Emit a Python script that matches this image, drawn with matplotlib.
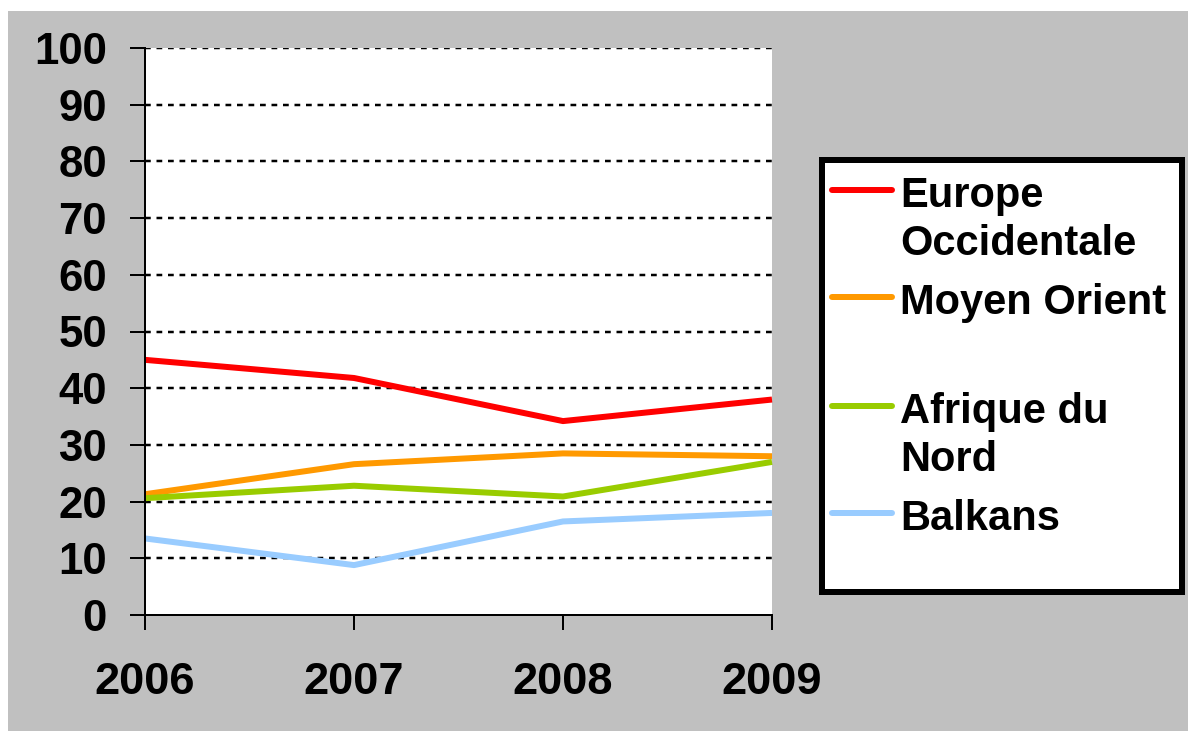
import matplotlib
matplotlib.use('Agg')
import matplotlib.pyplot as plt
from matplotlib.patches import Rectangle
from matplotlib.lines import Line2D

# Data
years = [2006, 2007, 2008, 2009]
europe = [45.0, 41.8, 34.2, 38.0]
moyen_orient = [21.3, 26.6, 28.5, 28.0]
afrique = [20.6, 22.8, 20.9, 27.0]
balkans = [13.5, 8.8, 16.5, 18.0]

labels = ['Europe\nOccidentale', 'Moyen Orient', 'Afrique du\nNord', 'Balkans']
series = [europe, moyen_orient, afrique, balkans]
colors = ['#ff0000', '#ff9900', '#99cc00', '#99ccff']
yticks = list(range(0, 101, 10))

W, H = 1188, 731
DPI = 100
PX = 72 / DPI  # points per pixel

def fx(x):
    return x / W

def fy(y):
    return 1 - y / H

plt.rcParams['font.family'] = ['Liberation Sans', 'DejaVu Sans']
plt.rcParams['font.weight'] = 'bold'

fig = plt.figure(figsize=(W / DPI, H / DPI), dpi=DPI, facecolor='white')

# gray chart background with a thin white margin at left/top
fig.add_artist(Rectangle((fx(8), 0), 1 - fx(8), fy(11), transform=fig.transFigure,
                         facecolor='#c0c0c0', edgecolor='none', zorder=0))

left, right, top, bottom = 145, 772, 48, 615
ax = fig.add_axes([fx(left), fy(bottom), fx(right - left), (bottom - top) / H])
ax.set_facecolor('white')

for vals, col in zip(series, colors):
    ax.plot(years, vals, color=col, lw=6 * PX, solid_joinstyle='round',
            solid_capstyle='butt', zorder=3, clip_on=False)

ax.set_xlim(years[0], years[-1])
ax.set_ylim(0, 100)
ax.set_xticks(years)
ax.set_xticklabels([str(y) for y in years])
ax.set_yticks(yticks)

for v in yticks[1:]:
    ax.axhline(v, color='black', lw=2.5 * PX, linestyle=(0, (2.3, 2.3)), zorder=1)

for s in ['top', 'right']:
    ax.spines[s].set_visible(False)
for s in ['left', 'bottom']:
    ax.spines[s].set_linewidth(2 * PX)
    ax.spines[s].set_zorder(4)

ax.tick_params(axis='both', direction='out', length=15 * PX, width=2 * PX,
               colors='black')
ax.tick_params(axis='y', pad=23 * PX, labelsize=31.5)
ax.tick_params(axis='x', pad=32 * PX, labelsize=32.5)
for t in ax.get_xticklabels() + ax.get_yticklabels():
    t.set_fontweight('bold')

# legend box drawn in figure pixels
fig.add_artist(Rectangle((fx(822), fy(592)), fx(1182 - 822), (592 - 160) / H,
                         transform=fig.transFigure, facecolor='white',
                         edgecolor='black', lw=6 * PX, zorder=5))
handle_y = [190, 297, 406, 513]
for lab, col, hy in zip(labels, colors, handle_y):
    fig.add_artist(Line2D([fx(832), fx(892)], [fy(hy), fy(hy)], transform=fig.transFigure,
                          color=col, lw=6 * PX, solid_capstyle='round', zorder=6))
    for i, line in enumerate(lab.split('\n')):
        fig.text(fx(900), fy(hy + 17 + 48 * i), line, fontsize=30, fontweight='bold',
                 ha='left', va='baseline', zorder=6)

fig.savefig('out.png', dpi=DPI, facecolor=fig.get_facecolor())
